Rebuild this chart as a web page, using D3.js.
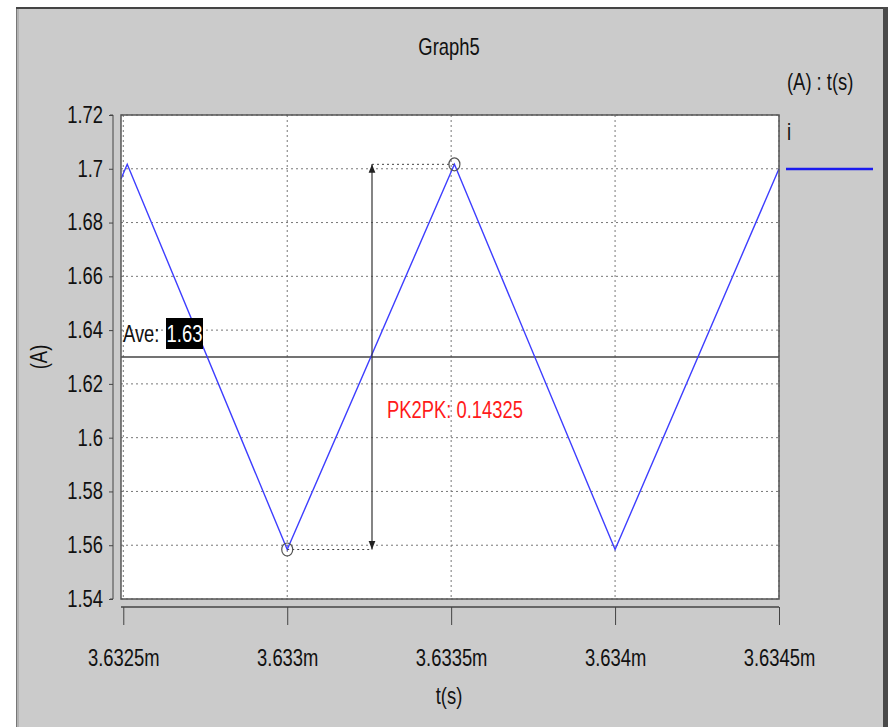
<!DOCTYPE html>
<html><head><meta charset="utf-8">
<script src="https://cdn.jsdelivr.net/npm/d3@7"></script>
<style>
html,body{margin:0;padding:0;background:#fff;}
svg text{font-family:"Liberation Sans",Arial,sans-serif;}
</style></head>
<body>
<svg id="chart" width="888" height="727"></svg>
<script>
// ---- data ----
const title = "Graph5";
const seriesName = "i";
const unitsLabel = "(A) : t(s)";
const xTicks = [3.6325, 3.633, 3.6335, 3.634, 3.6345];           // ms
const xTickLabels = ["3.6325m", "3.633m", "3.6335m", "3.634m", "3.6345m"];
const yTicks = [1.54, 1.56, 1.58, 1.6, 1.62, 1.64, 1.66, 1.68, 1.7, 1.72];
const yTickLabels = ["1.54", "1.56", "1.58", "1.6", "1.62", "1.64", "1.66", "1.68", "1.7", "1.72"];
const timeMs = [3.632493, 3.632512, 3.633000, 3.633510, 3.634000, 3.634500];
const currentA = [1.6962, 1.7017, 1.5584, 1.70165, 1.5584, 1.7000];
const average = 1.63;
const averageLabel = "1.63";
const pk2pkLabel = "PK2PK: 0.14325";
const markerPoints = [[3.633000, 1.5584], [3.633510, 1.70165]];

// ---- layout ----
const FS = 23, K = 0.8;
const svg = d3.select("#chart");
const pl = 121, pr = 779, pt = 115, pb = 599;
const x = d3.scaleLinear().domain([3.632493, 3.6345]).range([pl, pr]);
const y = d3.scaleLinear().domain([1.54, 1.72]).range([pb, pt]);

// horizontally condensed text (the reference uses a narrow face)
function narrow(sel) {
  sel.each(function () {
    const t = d3.select(this);
    const tx = +t.attr("x") || 0, ty = +t.attr("y") || 0;
    t.attr("transform", `translate(${tx},${ty}) scale(${K},1) translate(${-tx},${-ty})`);
  });
}
function label(px, py, txt, anchor, color) {
  return svg.append("text").attr("x", px).attr("y", py).attr("text-anchor", anchor || "start")
    .attr("font-size", FS).attr("fill", color || "#111").text(txt).call(narrow);
}

// background frame
svg.append("rect").attr("x", 0).attr("y", 0).attr("width", 888).attr("height", 727).attr("fill", "#fff");
svg.append("rect").attr("x", 16).attr("y", 7).attr("width", 872).attr("height", 730).attr("fill", "#cbcbcb");
svg.append("line").attr("x1", 16.5).attr("x2", 16.5).attr("y1", 7).attr("y2", 727).attr("stroke", "#777").attr("stroke-width", 1);
svg.append("line").attr("x1", 18).attr("x2", 18).attr("y1", 8).attr("y2", 727).attr("stroke", "#999").attr("stroke-width", 1);
svg.append("line").attr("x1", 16).attr("x2", 888).attr("y1", 8).attr("y2", 8).attr("stroke", "#444").attr("stroke-width", 2);
svg.append("rect").attr("x", 883).attr("y", 7).attr("width", 5).attr("height", 720).attr("fill", "#4a4a4a");

// title
label(449, 55, title, "middle");
label(787, 90, unitsLabel);

// plot area
svg.append("rect").attr("x", pl).attr("y", pt).attr("width", pr - pl).attr("height", pb - pt).attr("fill", "#fff");

// grid
const grid = svg.append("g");
grid.selectAll("line.h").data(yTicks).join("line")
  .attr("x1", pl).attr("x2", pr).attr("y1", d => y(d)).attr("y2", d => y(d))
  .attr("stroke", "#777").attr("stroke-width", 1).attr("stroke-dasharray", "2,3");
grid.selectAll("line.v").data(xTicks).join("line")
  .attr("x1", d => x(d)).attr("x2", d => x(d)).attr("y1", pt).attr("y2", pb)
  .attr("stroke", "#777").attr("stroke-width", 1).attr("stroke-dasharray", "2,3");

// average line
svg.append("line").attr("x1", pl).attr("x2", pr).attr("y1", y(average)).attr("y2", y(average))
  .attr("stroke", "#444").attr("stroke-width", 1.3);

// series
const line = d3.line().x((d, i) => x(timeMs[i])).y(d => y(d));
svg.append("path").datum(currentA).attr("d", line).attr("fill", "none")
  .attr("stroke", "#3e3eff").attr("stroke-width", 1.4);

// PK2PK measurement
const arrowX = 372;
const lo = markerPoints[0], hi = markerPoints[1];
svg.append("line").attr("x1", x(lo[0])).attr("x2", arrowX).attr("y1", y(lo[1])).attr("y2", y(lo[1]))
  .attr("stroke", "#444").attr("stroke-dasharray", "2,3");
svg.append("line").attr("x1", arrowX).attr("x2", x(hi[0])).attr("y1", y(hi[1])).attr("y2", y(hi[1]))
  .attr("stroke", "#444").attr("stroke-dasharray", "2,3");
const defs = svg.append("defs");
defs.append("marker").attr("id", "ah").attr("viewBox", "0 0 10 10").attr("refX", 10).attr("refY", 5)
  .attr("markerWidth", 7).attr("markerHeight", 9).attr("orient", "auto-start-reverse")
  .append("path").attr("d", "M0,1 L10,5 L0,9 Z").attr("fill", "#222");
svg.append("line").attr("x1", arrowX).attr("x2", arrowX).attr("y1", y(lo[1])).attr("y2", y(hi[1]))
  .attr("stroke", "#333").attr("stroke-width", 1.2)
  .attr("marker-start", "url(#ah)").attr("marker-end", "url(#ah)");
svg.selectAll("ellipse.mk").data(markerPoints).join("ellipse")
  .attr("cx", d => x(d[0])).attr("cy", d => y(d[1])).attr("rx", 5.5).attr("ry", 6.5)
  .attr("fill", "none").attr("stroke", "#555").attr("stroke-width", 1.2);
label(387, 418, pk2pkLabel, "start", "#ff1a1a");

// Ave label
label(123, 342, "Ave:");
svg.append("rect").attr("x", 166).attr("y", 318).attr("width", 37).attr("height", 31).attr("fill", "#000");
label(184.5, 342, averageLabel, "middle", "#fff");

// plot border
svg.append("rect").attr("x", pl).attr("y", pt).attr("width", pr - pl).attr("height", pb - pt)
  .attr("fill", "none").attr("stroke", "#555").attr("stroke-width", 1.5);

// y axis
const yAxis = d3.axisLeft(y).tickValues(yTicks).tickFormat((d, i) => yTickLabels[i]).tickSize(4).tickPadding(6);
const gy = svg.append("g").attr("transform", `translate(113,0)`).call(yAxis);
gy.select(".domain").attr("stroke", "#444").attr("d", `M-3,${pt}H0V${pb}H-3`);
gy.selectAll(".tick line").attr("stroke", "#444");
gy.selectAll(".tick text").attr("font-size", FS).attr("fill", "#111").attr("font-family", null).call(narrow);

// x axis
const xAxis = d3.axisBottom(x).tickValues(xTicks).tickFormat((d, i) => xTickLabels[i]).tickSize(18).tickPadding(25);
const gx = svg.append("g").attr("transform", `translate(0,607)`).call(xAxis);
gx.select(".domain").attr("stroke", "#444").attr("stroke-width", 1.5).attr("d", `M${pl},0H${pr}`);
gx.selectAll(".tick line").attr("stroke", "#444");
gx.selectAll(".tick text").attr("font-size", FS).attr("fill", "#111").attr("font-family", null).call(narrow);

// axis titles
label(449, 704, "t(s)", "middle");
svg.append("text").attr("transform", `translate(47,357) rotate(-90) scale(${K},1)`).attr("text-anchor", "middle")
  .attr("font-size", FS).attr("fill", "#111").text("(A)");

// legend
label(787, 140, seriesName);
svg.append("line").attr("x1", 786).attr("x2", 873).attr("y1", 169).attr("y2", 169)
  .attr("stroke", "#1a1aee").attr("stroke-width", 2.5);
</script>
</body></html>
